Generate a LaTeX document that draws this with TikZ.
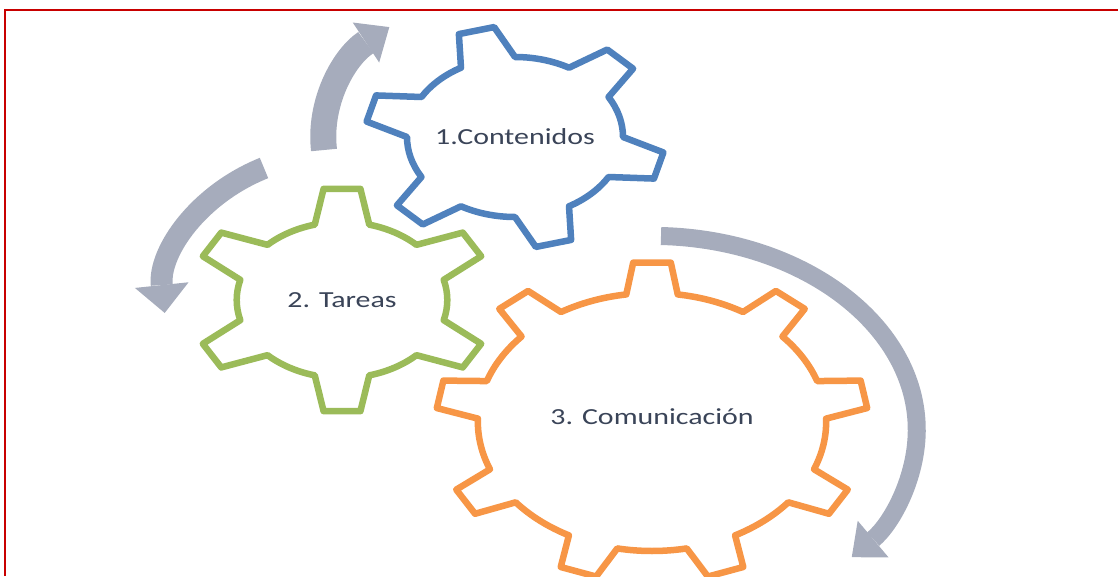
\documentclass[tikz,border=0pt]{standalone}
\usepackage{fontspec}
\setmainfont{Carlito}[FakeStretch=1.3]
\usetikzlibrary{arrows.meta, calc}

\definecolor{gearblue}{RGB}{79,129,189}
\definecolor{geargreen}{RGB}{155,187,89}
\definecolor{gearorange}{RGB}{247,150,70}
\definecolor{arrowgrey}{RGB}{166,172,188}
\definecolor{labeltext}{RGB}{58,68,88}
\definecolor{framered}{RGB}{200,0,0}

\tikzset{
	gearline/.style={line width=6.5pt, line join=round, fill=white},
	gearlabel/.style={text=labeltext, font=\fontsize{23}{28}\selectfont, inner sep=0pt},
	cyclearrow/.style={draw=arrowgrey, line width=#1},
}

% #1 colour, #2 centre, #3 teeth, #4 first tooth angle, #5 outer r, #6 inner r, #7/#8 half angles
\newcommand{\gearshape}[8]{%
	\begin{scope}[shift={(#2)}, xscale=1.35]
		\draw[gearline, draw=#1] ({#4-#8}:#6)
		\foreach \i in {1,...,#3}{
			-- ({#4+(\i-1)*360/#3-#7}:#5) -- ({#4+(\i-1)*360/#3+#7}:#5)
			-- ({#4+(\i-1)*360/#3+#8}:#6)
			arc[start angle={#4+(\i-1)*360/#3+#8}, end angle={#4+\i*360/#3-#8}, radius=#6]
		} -- cycle;
	\end{scope}}

\begin{document}
\begin{tikzpicture}[x=1pt, y=1pt]
		\useasboundingbox (0,0) rectangle (1118,-576);
		\draw[framered, line width=2.5pt] (5,-576) -- (5,-10) -- (1118,-10);

		\coordinate (cblue) at (515,-137);
		\coordinate (cgreen) at (342,-300);
		\coordinate (corange) at (652,-422);

		\coordinate (a1s) at (324,-150);
		\coordinate (a2s) at (264,-168);
		\coordinate (a3s) at (661,-236);
		\draw [cyclearrow=26pt, -{Triangle[width=48pt, length=28pt, line width=0pt]}](a1s)arc[start angle=185, end angle=131, x radius=192, y radius=146];
		\draw [cyclearrow=22pt, -{Triangle[width=54pt, length=28pt, line width=0pt]}](a2s)arc[start angle=116, end angle=185, x radius=178, y radius=147];
		\draw [cyclearrow=18pt, -{Triangle[width=48pt, length=28pt, line width=0pt]}](a3s)arc[start angle=88, end angle=-41, x radius=265, y radius=194];

		\gearshape{gearblue}{cblue}{6}{105}{111}{80}{7}{15}
		\gearshape{geargreen}{cgreen}{6}{90}{112}{78}{7}{15}
		\gearshape{gearorange}{corange}{9}{90}{160}{129}{5}{8.5}

		\node (contenidos)at (cblue)[gearlabel] {1.Contenidos};
		\node (tareas)at (cgreen)[gearlabel] {2. Tareas};
		\node (comunicacion)at ($(corange)+(0,5)$)[gearlabel] {3. Comunicación};
	\end{tikzpicture}
\end{document}
